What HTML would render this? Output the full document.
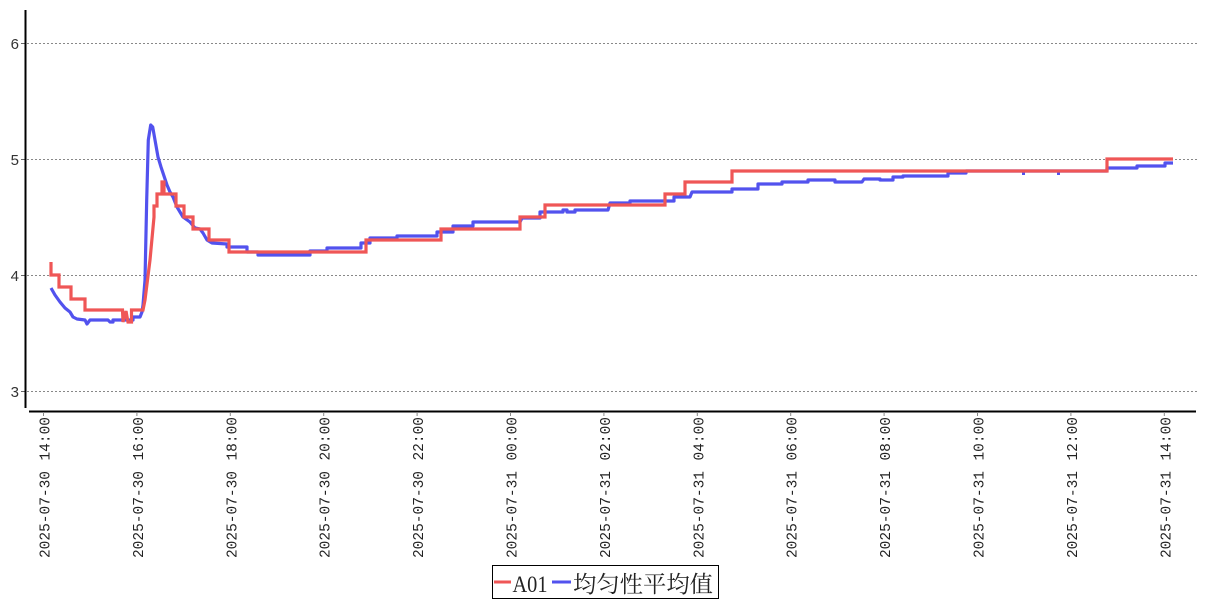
<!DOCTYPE html>
<html>
<head>
<meta charset="utf-8">
<style>
html,body{margin:0;padding:0;background:#fff;}
svg{display:block;}
</style>
</head>
<body>
<svg width="1207" height="600" viewBox="0 0 1207 600" xmlns="http://www.w3.org/2000/svg">
<rect width="1207" height="600" fill="#fff"/>
<!-- gridlines -->
<g stroke="#888" stroke-width="1" stroke-dasharray="2,2">
<line x1="27" y1="43.5" x2="1197" y2="43.5"/>
<line x1="27" y1="159.5" x2="1197" y2="159.5"/>
<line x1="27" y1="275.5" x2="1197" y2="275.5"/>
<line x1="27" y1="391.5" x2="1197" y2="391.5"/>
</g>
<!-- y ticks -->
<g stroke="#666" stroke-width="1">
<line x1="21" y1="43.5" x2="25" y2="43.5"/>
<line x1="21" y1="159.5" x2="25" y2="159.5"/>
<line x1="21" y1="275.5" x2="25" y2="275.5"/>
<line x1="21" y1="391.5" x2="25" y2="391.5"/>
</g>
<g font-family="Liberation Sans, sans-serif" font-size="15" fill="#333" text-anchor="end">
<text x="19" y="49">6</text>
<text x="19" y="165">5</text>
<text x="19" y="281">4</text>
<text x="19" y="397">3</text>
</g>
<!-- axes -->
<line x1="25.5" y1="10" x2="25.5" y2="408" stroke="#000" stroke-width="2"/>
<line x1="29" y1="411.5" x2="1196" y2="411.5" stroke="#000" stroke-width="2"/>
<!-- x ticks -->
<g stroke="#888" stroke-width="1">
<line x1="43.5" y1="412" x2="43.5" y2="416"/>
<line x1="136.9" y1="412" x2="136.9" y2="416"/>
<line x1="230.3" y1="412" x2="230.3" y2="416"/>
<line x1="323.7" y1="412" x2="323.7" y2="416"/>
<line x1="417.1" y1="412" x2="417.1" y2="416"/>
<line x1="510.5" y1="412" x2="510.5" y2="416"/>
<line x1="603.9" y1="412" x2="603.9" y2="416"/>
<line x1="697.3" y1="412" x2="697.3" y2="416"/>
<line x1="790.7" y1="412" x2="790.7" y2="416"/>
<line x1="884.1" y1="412" x2="884.1" y2="416"/>
<line x1="977.5" y1="412" x2="977.5" y2="416"/>
<line x1="1070.9" y1="412" x2="1070.9" y2="416"/>
<line x1="1164.3" y1="412" x2="1164.3" y2="416"/>
</g>
<g font-family="Liberation Mono, monospace" font-size="14.5" fill="#222" text-anchor="end">
<g transform="translate(49.5,0)"><text transform="translate(0,417) rotate(-90)">14:00</text><text transform="translate(0,471) rotate(-90)">2025-07-30</text></g>
<g transform="translate(142.9,0)"><text transform="translate(0,417) rotate(-90)">16:00</text><text transform="translate(0,471) rotate(-90)">2025-07-30</text></g>
<g transform="translate(236.3,0)"><text transform="translate(0,417) rotate(-90)">18:00</text><text transform="translate(0,471) rotate(-90)">2025-07-30</text></g>
<g transform="translate(329.7,0)"><text transform="translate(0,417) rotate(-90)">20:00</text><text transform="translate(0,471) rotate(-90)">2025-07-30</text></g>
<g transform="translate(423.1,0)"><text transform="translate(0,417) rotate(-90)">22:00</text><text transform="translate(0,471) rotate(-90)">2025-07-30</text></g>
<g transform="translate(516.5,0)"><text transform="translate(0,417) rotate(-90)">00:00</text><text transform="translate(0,471) rotate(-90)">2025-07-31</text></g>
<g transform="translate(609.9,0)"><text transform="translate(0,417) rotate(-90)">02:00</text><text transform="translate(0,471) rotate(-90)">2025-07-31</text></g>
<g transform="translate(703.3,0)"><text transform="translate(0,417) rotate(-90)">04:00</text><text transform="translate(0,471) rotate(-90)">2025-07-31</text></g>
<g transform="translate(796.7,0)"><text transform="translate(0,417) rotate(-90)">06:00</text><text transform="translate(0,471) rotate(-90)">2025-07-31</text></g>
<g transform="translate(890.1,0)"><text transform="translate(0,417) rotate(-90)">08:00</text><text transform="translate(0,471) rotate(-90)">2025-07-31</text></g>
<g transform="translate(983.5,0)"><text transform="translate(0,417) rotate(-90)">10:00</text><text transform="translate(0,471) rotate(-90)">2025-07-31</text></g>
<g transform="translate(1076.9,0)"><text transform="translate(0,417) rotate(-90)">12:00</text><text transform="translate(0,471) rotate(-90)">2025-07-31</text></g>
<g transform="translate(1170.3,0)"><text transform="translate(0,417) rotate(-90)">14:00</text><text transform="translate(0,471) rotate(-90)">2025-07-31</text></g>
</g>
<!-- blue series -->
<polyline fill="none" stroke="#5252ee" stroke-width="3.2" stroke-linejoin="round" points="
51,288 55,295 60,302 65,308 70,312 73,317 77,319 85,320 87,324 90,320 108,320 110,322 113,322 113,320 133,320 133,317 140,317 142,312 143,305 145,280 146.7,200 148.3,140 150.7,125 152.7,127 155,140 158,157 161,167 163,173 167,185 170,192 173,197 177,207 183,217 190,222 195,228 200,229 203,233 207,240 212,243 227,244 227,247 247,247 247,252 258,252 258,255 310,255 310,251 327,251 327,248 361,248 361,243 370,243 370,238 397,238 397,236 437,236 437,232 453,232 453,226 473,226 473,222 520,222 522,218 540,218 540,212 563,212 563,210 567,210 567,212 575,212 575,210 608,210 610,203 630,203 630,201 674,201 674,197 690,197 692,192 732,192 732,189 758,189 758,184 782,184 782,182 808,182 808,180 835,180 835,182 862,182 864,179 880,179 880,180 893,180 893,177 903,177 903,176 948,176 948,173 966,173 966,171 1107,171 1107,168 1137,168 1137,166 1165,166 1165,163 1173,163"/>
<g fill="#5252ee">
<rect x="1022" y="170" width="3" height="5"/>
<rect x="1057" y="170" width="3" height="5"/>
</g>
<!-- red series -->
<polyline fill="none" stroke="#ef5656" stroke-width="3.2" stroke-linejoin="miter" points="
51,262 51,275 59,275 59,287 71,287 71,299 85,299 85,310 122.5,310 123,322 126,311 128,322 131.5,322 131.5,310 143,310 145,300 150,260 154,217 154,206 157,206 157,194 162,194 162,182 164,182 164,194 176,194 176,206 184,206 184,217 193,217 193,229 209,229 209,240 229,240 229,252 366,252 366,240 441,240 441,229 520,229 520,217 545,217 545,205 665,205 665,194 685,194 685,182 732,182 732,171 1107,171 1107,159 1173,159"/>
<!-- legend -->
<rect x="492.5" y="565.5" width="226" height="33" fill="#fff" stroke="#000" stroke-width="1"/>
<line x1="494" y1="582" x2="511" y2="582" stroke="#ef5656" stroke-width="3"/>
<text x="512.5" y="592" font-family="Liberation Serif, serif" font-size="23" fill="#222" textLength="35" lengthAdjust="spacingAndGlyphs">A01</text>
<line x1="552" y1="582" x2="571" y2="582" stroke="#5252ee" stroke-width="3"/>
<text x="573" y="592" font-family="Liberation Serif, 'Noto Serif CJK SC', serif" font-size="23" fill="#222" textLength="140" lengthAdjust="spacingAndGlyphs">均匀性平均值</text>
</svg>
</body>
</html>
